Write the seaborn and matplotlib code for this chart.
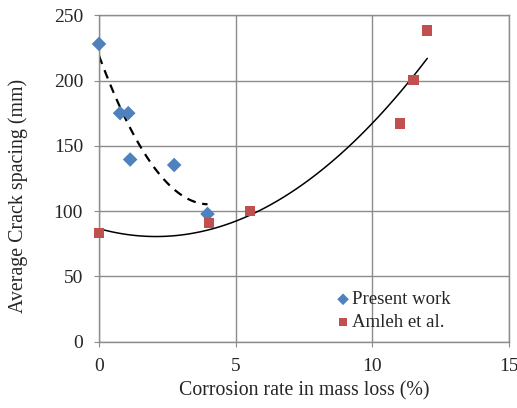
import numpy as np
import pandas as pd
import matplotlib
matplotlib.use("Agg")
import matplotlib.pyplot as plt
import seaborn as sns

# Present work (blue diamonds)
present_x = [0.0, 0.77, 1.07, 1.14, 2.75, 3.97]
present_y = [228, 175, 175, 139.5, 135.3, 97.8]

# Amleh et al. (red squares)
amleh_x = [0.0, 4.03, 5.52, 11.0, 11.51, 12.01]
amleh_y = [83.5, 91, 100, 167, 200.4, 238.4]

sns.set_style("white")
plt.rcParams["font.family"] = ["Liberation Serif", "DejaVu Serif"]

fig = plt.figure(figsize=(5.17, 4.08), dpi=100)
ax = fig.add_axes([0.1915, 0.1625, 0.793, 0.8002])

df_p = pd.DataFrame({"x": present_x, "y": present_y})
df_a = pd.DataFrame({"x": amleh_x, "y": amleh_y})

# polynomial trend lines (2nd order)
cp = np.polyfit(present_x, present_y, 2)
xp = np.linspace(min(present_x), max(present_x), 100)
ax.plot(xp, np.polyval(cp, xp), color="black", ls=(0, (4, 3)), lw=1.6, zorder=2)

ca = np.polyfit(amleh_x, amleh_y, 2)
xa = np.linspace(min(amleh_x), max(amleh_x), 100)
ax.plot(xa, np.polyval(ca, xa), color="black", lw=1.1, zorder=2)

sns.scatterplot(data=df_p, x="x", y="y", marker="D", color="#4F81BD", s=55,
                edgecolor="none", ax=ax, label="Present work", zorder=3, clip_on=False)
sns.scatterplot(data=df_a, x="x", y="y", marker="s", color="#C0504D", s=55,
                edgecolor="none", ax=ax, label="Amleh et al.", zorder=3, clip_on=False)

ax.set_xlim(0, 15)
ax.set_ylim(0, 250)
ax.set_xticks([0, 5, 10, 15])
ax.set_yticks(range(0, 251, 50))
ax.grid(True, color="#8C8C8C", lw=1.0)
ax.set_axisbelow(True)
for s in ax.spines.values():
    s.set_color("#8C8C8C")
    s.set_linewidth(1.0)
ax.tick_params(axis="both", length=3.5, color="#8C8C8C", labelsize=14, direction="out",
               bottom=True, left=True)
ax.tick_params(axis="x", pad=8)
ax.tick_params(axis="y", pad=8)
ax.set_xlabel("Corrosion rate in mass loss (%)", fontsize=14.3)
ax.set_ylabel("Average Crack spacing (mm)", fontsize=14.3)
ax.xaxis.set_label_coords(0.5, -0.122)
ax.yaxis.set_label_coords(-0.172, 0.447)

ax.legend(loc="upper left", bbox_to_anchor=(0.577, 0.155), frameon=False, fontsize=13.5,
          handletextpad=0.1, handlelength=0.8, borderaxespad=0, borderpad=0,
          labelspacing=0.3, markerscale=0.8)

fig.savefig("out.png", dpi=100)
